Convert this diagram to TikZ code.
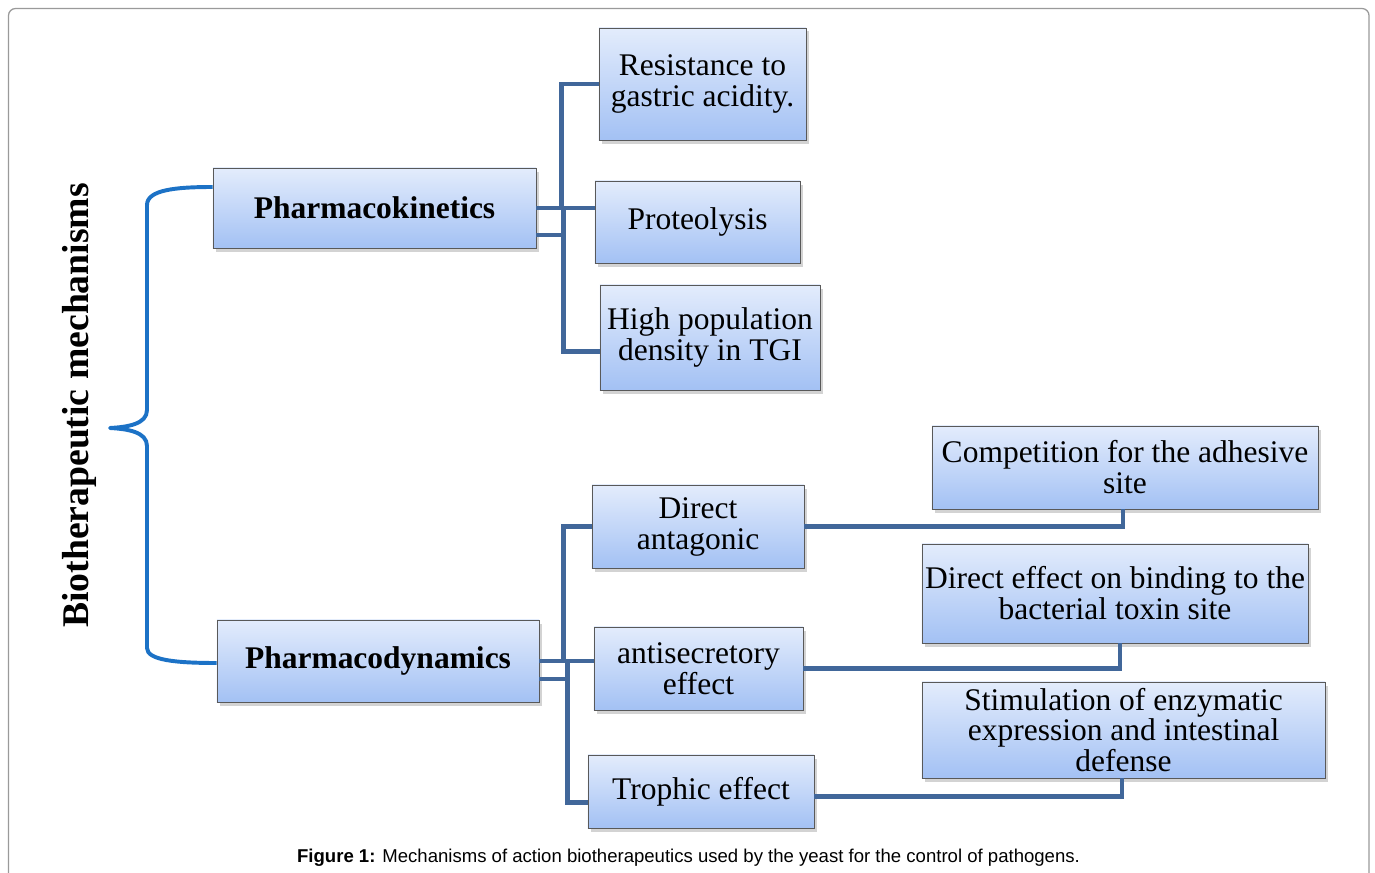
\documentclass[tikz,border=0pt]{standalone}
\usepackage{fontspec}
\setmainfont{Liberation Serif}
\newfontfamily\capfont{Liberation Sans}
\usetikzlibrary{calc,shadows}

\definecolor{boxtop}{HTML}{E3ECFC}
\definecolor{boxbot}{HTML}{A3C1F4}
\definecolor{linkblue}{HTML}{41679A}
\definecolor{braceblue}{HTML}{1C72C6}
\definecolor{framegray}{HTML}{9A9A9A}

\tikzset{
  box/.style={draw=black!65, line width=0.6pt, top color=boxtop, bottom color=boxbot,
    align=center, inner sep=0pt, font=\fontsize{22.4}{22}\selectfont,
    drop shadow={shadow xshift=2pt, shadow yshift=-2.5pt, opacity=0.35}},
  headbox/.style={box, font=\fontsize{22.4}{22}\selectfont\bfseries},
  link/.style={draw=linkblue, line width=3.5pt},
  brace/.style={draw=braceblue, line width=2.8pt, line join=round},
}

\begin{document}
\begin{tikzpicture}[x=0.025cm, y=-0.025cm]
\useasboundingbox (0,0) rectangle (1375,873);
\draw[framegray, line width=0.9pt, rounded corners=5pt] (8.5,873) -- (8.5,8.5) -- (1369,8.5) -- (1369,873);

% main branches
\node[headbox, minimum width=8.075cm, minimum height=2cm] (PK) at (374.5,208) {Pharmacokinetics};
\node[headbox, minimum width=8.05cm, minimum height=2.05cm] (PD) at (378,661) {Pharmacodynamics};

% pharmacokinetics
\node[box, minimum width=5.175cm, minimum height=2.8cm] (Res) at (702.5,84) {Resistance to\\gastric acidity.};
\node[box, minimum width=5.125cm, minimum height=2.05cm] (Prot) at (697.5,222) {Proteolysis};
\node[box, minimum width=5.5cm, minimum height=2.625cm] (High) at (710,337.5) {High population\\density in TGI};

% pharmacodynamics
\node[box, minimum width=5.3cm, minimum height=2.075cm] (DA) at (698,526.5) {Direct\\antagonic};
\node[box, minimum width=5.225cm, minimum height=2.075cm] (AS) at (698.5,668.5) {antisecretory\\effect};
\node[box, minimum width=5.65cm, minimum height=1.825cm] (Troph) at (701,791.5) {Trophic effect};

\node[box, minimum width=9.65cm, minimum height=2.075cm] (Comp) at (1125,467.5) {Competition for the adhesive\\site};
\node[box, minimum width=9.65cm, minimum height=2.475cm] (DE) at (1115,593.5) {Direct effect on binding to the\\bacterial toxin site};
\node[box, minimum width=10.075cm, minimum height=2.4cm] (Stim) at (1123.5,730) {Stimulation of enzymatic\\expression and intestinal\\defense};

% title
\node[rotate=90, anchor=base, font=\fontsize{26.8}{30}\selectfont\bfseries] (title) at (88,405.5) {Biotherapeutic mechanisms};

% brace
\draw[brace] ($(PK.west)+(0,-21)$) .. controls (175,187) and (147,190) .. (147,205)
  -- (147,410) .. controls (147,424) and (128,427) .. (110,428)
  .. controls (128,429) and (147,432) .. (147,446)
  -- (147,648) .. controls (147,660) and (175,663) .. ($(PD.west)+(0,2)$);

% connectors
\draw[link] (PK.east) -- ++(25,0) |- (Res.west);
\draw[link] (PK.east) -- (PK.east -| Prot.west);
\draw[link] ($(PK.east)+(0,27)$) -- ++(27,0) ++(0,-27) |- ($(High.west)+(0,14)$);

\draw[link] (PD.east) -- ++(24,0) |- (DA.west);
\draw[link] (PD.east) -- (PD.east -| AS.west);
\draw[link] ($(PD.east)+(0,18)$) -- ++(28,0) ++(0,-16) |- ($(Troph.west)+(0,11)$);

\draw[link] (DA.east) -| ($(Comp.south)+(-2,0)$);
\draw[link] (AS.east) -| ($(DE.south)+(5,0)$);
\draw[link] ($(Troph.east)+(0,5)$) -| ($(Stim.south)+(-1.5,0)$);

% caption
\node[font=\capfont\fontsize{13.2}{15}\selectfont] (cap) at (688.5,857.5) {\textbf{Figure 1:} Mechanisms of action biotherapeutics used by the yeast for the control of pathogens.};
\end{tikzpicture}
\end{document}
